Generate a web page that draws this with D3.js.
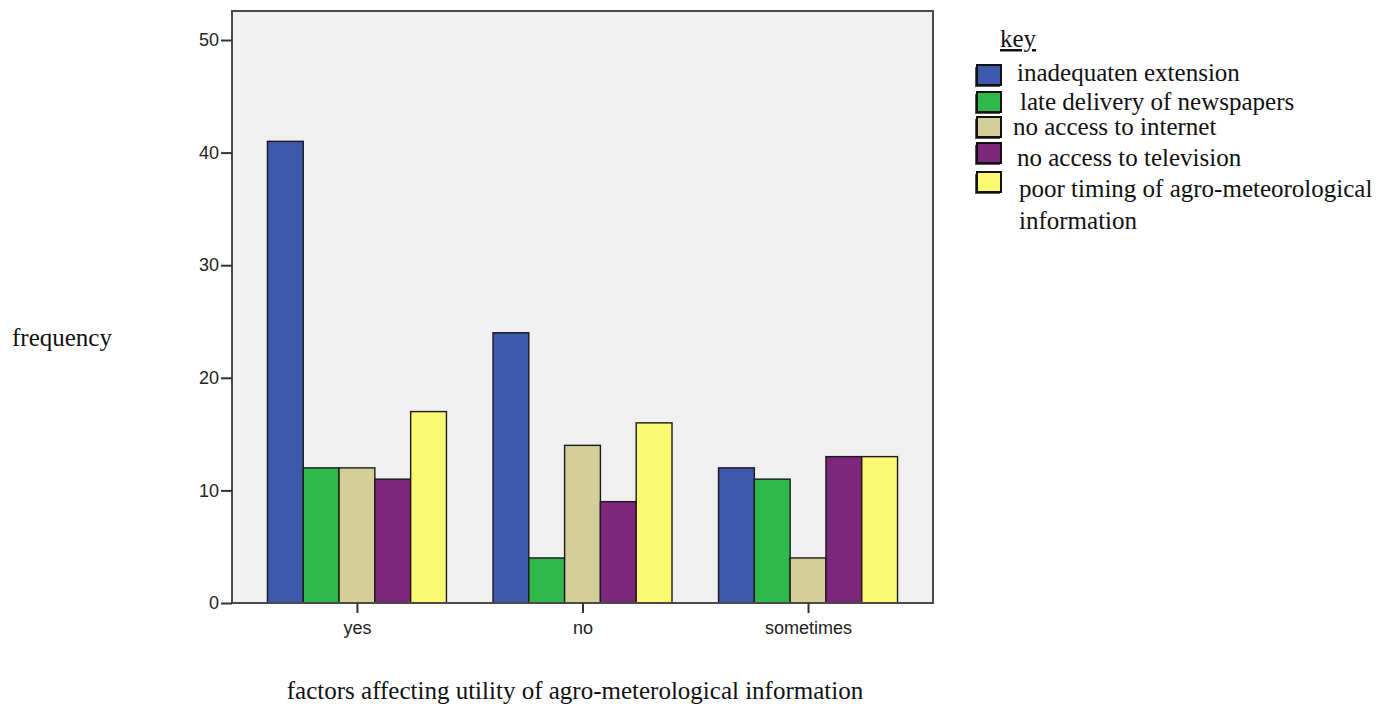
<!DOCTYPE html>
<html>
<head>
<meta charset="utf-8">
<script src="https://cdn.jsdelivr.net/npm/d3@7"></script>
<style>
  html, body { margin: 0; padding: 0; background: #fff; }
  svg { display: block; }
</style>
</head>
<body>
<svg id="chart" width="1384" height="707"></svg>
<script>
// ---- data ----
const categories = ["yes", "no", "sometimes"];
const seriesNames = [
  "inadequaten extension",
  "late delivery of newspapers",
  "no access to internet",
  "no access to television",
  "poor timing of agro-meteorological information"
];
const inadequatenExtension = [41, 24, 12];
const lateDeliveryOfNewspapers = [12, 4, 11];
const noAccessToInternet = [12, 14, 4];
const noAccessToTelevision = [11, 9, 13];
const poorTiming = [17, 16, 13];
const yTicks = [0, 10, 20, 30, 40, 50];
const seriesValues = [inadequatenExtension, lateDeliveryOfNewspapers, noAccessToInternet, noAccessToTelevision, poorTiming];

// ---- styling ----
const colors = ["#3E58AC", "#2FB94A", "#D4CE98", "#7C277C", "#FBF871"];
const legendLines = [
  ["inadequaten extension"],
  ["late delivery of newspapers"],
  ["no access to internet"],
  ["no access to television"],
  ["poor timing of agro-meteorological", "information"]
];
const legendSwatchY = [65, 92, 117, 143, 172];
const legendTextX = [1017, 1020, 1013, 1017, 1019];
const legendTextY = [81, 110, 135, 166, 197];

const svg = d3.select("#chart");
const plot = { left: 232, right: 933, top: 11, bottom: 603 };

const y = d3.scaleLinear().domain([0, 50]).range([603, 40]);
const x0 = d3.scalePoint().domain(categories).range([plot.left, plot.right]).padding(0.554);
const groupWidth = 179;
const x1 = d3.scaleBand().domain(d3.range(seriesNames.length)).range([-groupWidth / 2, groupWidth / 2]).padding(0);

// background
svg.append("rect")
  .attr("x", plot.left).attr("y", plot.top)
  .attr("width", plot.right - plot.left).attr("height", plot.bottom - plot.top)
  .attr("fill", "#F0F0F0");

// bars
const groups = svg.append("g").selectAll("g")
  .data(categories)
  .join("g")
  .attr("transform", d => `translate(${x0(d)},0)`);

groups.selectAll("rect")
  .data((d, i) => seriesValues.map((s, k) => ({ k, v: s[i] })))
  .join("rect")
  .attr("x", d => x1(d.k))
  .attr("y", d => y(d.v))
  .attr("width", x1.bandwidth())
  .attr("height", d => y(0) - y(d.v))
  .attr("fill", d => colors[d.k])
  .attr("stroke", "#1a1a1a")
  .attr("stroke-width", 1.4);

// frame
svg.append("rect")
  .attr("x", plot.left).attr("y", plot.top)
  .attr("width", plot.right - plot.left).attr("height", plot.bottom - plot.top)
  .attr("fill", "none")
  .attr("stroke", "#4a4a4a")
  .attr("stroke-width", 2);

// y axis
const yAxis = d3.axisLeft(y).tickValues(yTicks).tickSize(11).tickPadding(2);
const gy = svg.append("g").attr("transform", `translate(${plot.left},0)`).call(yAxis);
gy.select(".domain").remove();
gy.selectAll(".tick line").attr("stroke", "#333").attr("stroke-width", 2);
gy.selectAll(".tick text")
  .attr("font-family", "'Liberation Sans', Arial, sans-serif")
  .attr("font-size", 18).attr("fill", "#222");

// x axis
const xAxis = d3.axisBottom(x0).tickSize(10).tickPadding(8);
const gx = svg.append("g").attr("transform", `translate(0,${plot.bottom})`).call(xAxis);
gx.select(".domain").remove();
gx.selectAll(".tick line").attr("stroke", "#333").attr("stroke-width", 2);
gx.selectAll(".tick text")
  .attr("font-family", "'Liberation Sans', Arial, sans-serif")
  .attr("font-size", 18).attr("fill", "#222");

// axis titles
const serif = "'Liberation Serif', 'Times New Roman', serif";
svg.append("text")
  .attr("x", 12).attr("y", 346)
  .attr("font-family", serif).attr("font-size", 25).attr("fill", "#111")
  .text("frequency");
svg.append("text")
  .attr("x", 575).attr("y", 699)
  .attr("text-anchor", "middle")
  .attr("font-family", serif).attr("font-size", 25).attr("fill", "#111")
  .text("factors affecting utility of agro-meterological information");

// legend
svg.append("text")
  .attr("x", 1000).attr("y", 47)
  .attr("font-family", serif).attr("font-size", 25).attr("fill", "#111")
  .attr("text-decoration", "underline")
  .text("key");

const leg = svg.append("g");
seriesNames.forEach((name, i) => {
  leg.append("rect")
    .attr("x", 975).attr("y", legendSwatchY[i] + 2)
    .attr("width", 25).attr("height", 20)
    .attr("fill", "#555");
  leg.append("rect")
    .attr("x", 977).attr("y", legendSwatchY[i])
    .attr("width", 24).attr("height", 20)
    .attr("fill", colors[i])
    .attr("stroke", "#111").attr("stroke-width", 2);
  const t = leg.append("text")
    .attr("font-family", serif).attr("font-size", 25).attr("fill", "#111");
  legendLines[i].forEach((line, j) => {
    t.append("tspan")
      .attr("x", legendTextX[i])
      .attr("y", legendTextY[i] + j * 32)
      .text(line);
  });
});
</script>
</body>
</html>
